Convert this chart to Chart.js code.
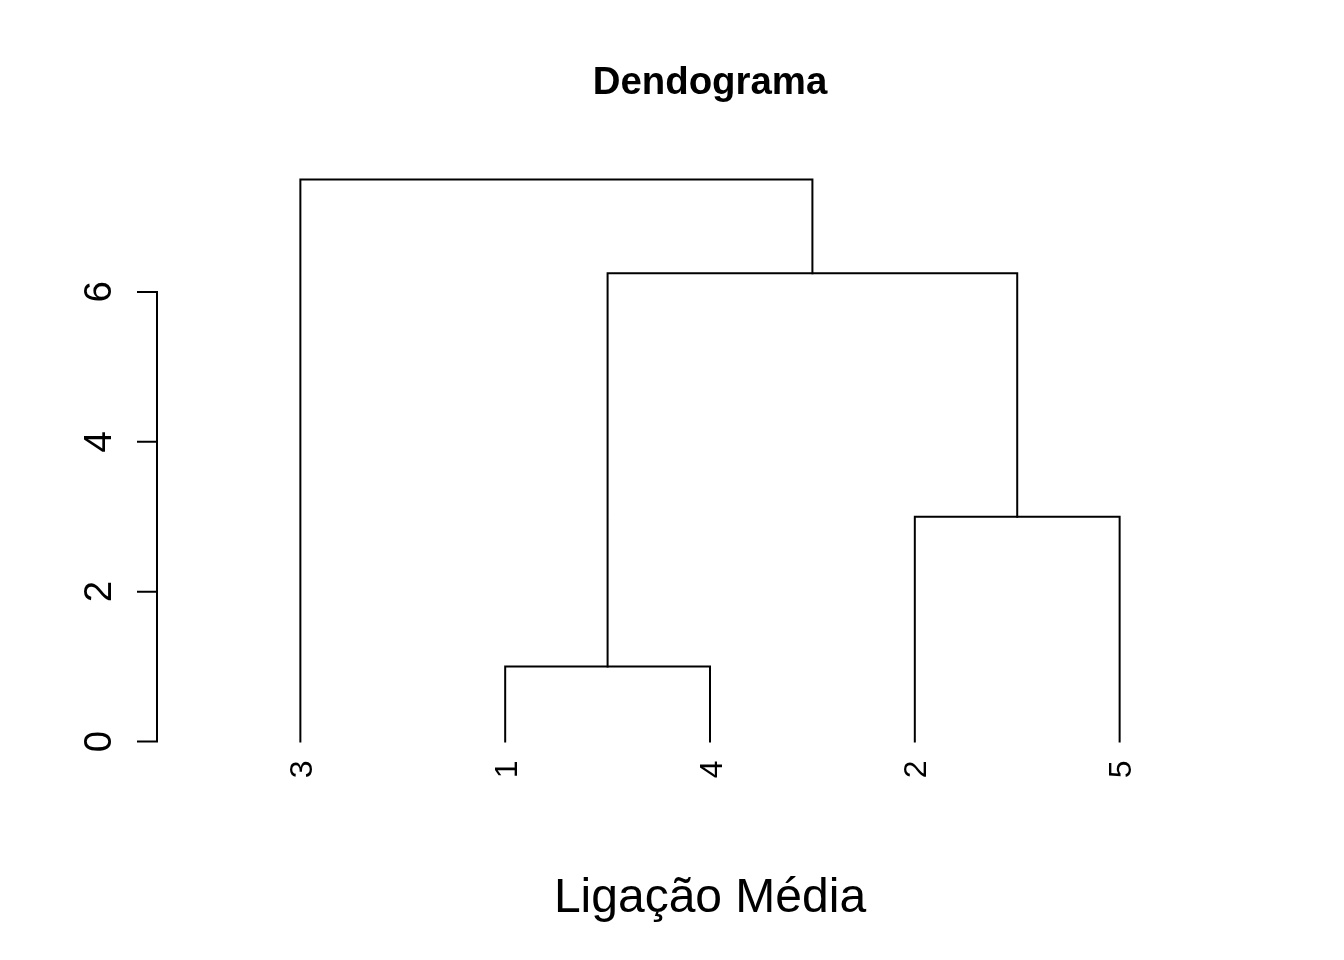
<!DOCTYPE html>
<html>
<head>
<meta charset="utf-8">
<script src="https://cdn.jsdelivr.net/npm/chart.js@4/dist/chart.umd.min.js"></script>
<style>
  html, body { margin: 0; padding: 0; background: #ffffff; }
  #wrap { width: 1344px; height: 960px; }
</style>
</head>
<body>
<div id="wrap"><canvas id="c" width="1344" height="960"></canvas></div>
<script>
// ---- data (hclust-style) ----
const chartTitle = 'Dendograma';
const xLabel = 'Ligação Média';
const obsLabels = ['1', '2', '3', '4', '5'];      // label of each observation
const mergeLeft = [-1, -2, 1, -3];                // negative = observation, positive = earlier merge
const mergeRight = [-4, -5, 2, 3];
const mergeHeight = [1, 3, 6.25, 7.5];
const leafOrder = [3, 1, 4, 2, 5];                // left-to-right order of observations
const yTicks = [0, 2, 4, 6];

// ---- build dendrogram segments from the merge table ----
const leafPos = {};
leafOrder.forEach((obs, i) => { leafPos[obs] = i + 1; });
const nodeX = [], nodeH = [];
function childX(c) { return c < 0 ? leafPos[-c] : nodeX[c - 1]; }
function childH(c) { return c < 0 ? 0 : nodeH[c - 1]; }
const datasets = [];
mergeHeight.forEach((h, k) => {
  const l = mergeLeft[k], r = mergeRight[k];
  let xl = childX(l), xr = childX(r), hl = childH(l), hr = childH(r);
  if (xl > xr) { [xl, xr] = [xr, xl]; [hl, hr] = [hr, hl]; }
  nodeX.push((xl + xr) / 2);
  nodeH.push(h);
  datasets.push({
    data: [{x: xl, y: hl}, {x: xl, y: h}, {x: xr, y: h}, {x: xr, y: hr}],
    showLine: true,
    borderColor: '#000000',
    borderWidth: 2,
    pointRadius: 0,
    pointHoverRadius: 0,
    fill: false,
    tension: 0,
    borderCapStyle: 'square'
  });
});

const nLeaves = leafOrder.length;
const xMin = 0.5 - 0.04 * nLeaves, xMax = nLeaves + 0.5 + 0.04 * nLeaves;
const hMax = Math.max(...mergeHeight);
const yMin = -0.04 * hMax, yMax = hMax * 1.04;

const FONT = '"Liberation Sans", Arial, Helvetica, sans-serif';

const annotate = {
  id: 'rAnnotate',
  afterDraw(chart) {
    const ctx = chart.ctx;
    const xs = chart.scales.x, ys = chart.scales.y;
    const area = chart.chartArea;
    ctx.save();
    ctx.fillStyle = '#000';
    ctx.strokeStyle = '#000';
    ctx.lineWidth = 2;

    // title
    ctx.font = 'bold 38.4px ' + FONT;
    ctx.textAlign = 'center';
    ctx.textBaseline = 'alphabetic';
    ctx.fillText(chartTitle, (area.left + area.right) / 2, 94);

    // y axis line + ticks
    const ax = area.left;
    const yTop = ys.getPixelForValue(yTicks[yTicks.length - 1]);
    const yBot = ys.getPixelForValue(yTicks[0]);
    ctx.beginPath();
    ctx.moveTo(ax, yTop);
    ctx.lineTo(ax, yBot);
    yTicks.forEach(v => {
      const py = ys.getPixelForValue(v);
      ctx.moveTo(ax, py);
      ctx.lineTo(ax - 19, py);
    });
    ctx.lineCap = 'square';
    ctx.stroke();

    // y tick labels (rotated, reading bottom to top)
    ctx.font = '38.4px ' + FONT;
    yTicks.forEach(v => {
      const py = ys.getPixelForValue(v);
      ctx.save();
      ctx.translate(111, py);
      ctx.rotate(-Math.PI / 2);
      ctx.textAlign = 'center';
      ctx.textBaseline = 'alphabetic';
      ctx.fillText(String(v), 0, 0);
      ctx.restore();
    });

    // leaf labels
    ctx.font = '32px ' + FONT;
    leafOrder.forEach((obs, i) => {
      const px = xs.getPixelForValue(i + 1);
      const py = ys.getPixelForValue(0) + 19;
      ctx.save();
      ctx.translate(px + 11.5, py);
      ctx.rotate(-Math.PI / 2);
      ctx.textAlign = 'right';
      ctx.textBaseline = 'alphabetic';
      ctx.fillText(obsLabels[obs - 1], 0, 0);
      ctx.restore();
    });

    // x label
    ctx.font = '48px ' + FONT;
    ctx.textAlign = 'center';
    ctx.textBaseline = 'alphabetic';
    ctx.fillText(xLabel, (area.left + area.right) / 2, 912);
    ctx.restore();
  }
};

new Chart(document.getElementById('c'), {
  type: 'scatter',
  data: { datasets },
  options: {
    responsive: false,
    animation: false,
    events: [],
    layout: { padding: { left: 157, right: 81, top: 157, bottom: 196 } },
    scales: {
      x: { type: 'linear', min: xMin, max: xMax, display: false },
      y: { type: 'linear', min: yMin, max: yMax, display: false }
    },
    plugins: {
      legend: { display: false },
      tooltip: { enabled: false },
      title: { display: false }
    }
  },
  plugins: [annotate]
});
</script>
</body>
</html>
